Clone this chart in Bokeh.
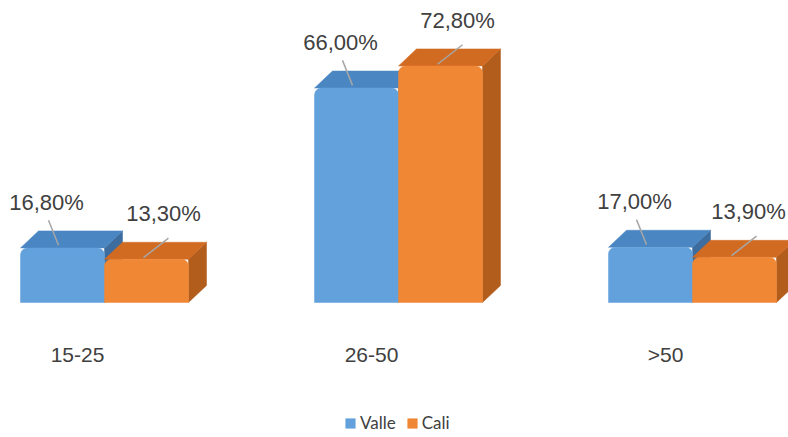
from bokeh.plotting import figure
from bokeh.models import Range1d, FixedTicker, Legend, LegendItem
from bokeh.core.properties import value
from bokeh.embed import file_html
from bokeh.resources import INLINE

categories = ["15-25", "26-50", ">50"]
valle = [16.8, 66.0, 17.0]
cali = [13.3, 72.8, 13.9]
valle_labels = ["16,80%", "66,00%", "17,00%"]
cali_labels = ["13,30%", "72,80%", "13,90%"]

W, H = 788, 437
PX_X = 294.0      # pixels per category unit
PX_Y = 3.25       # pixels per percent
BASE = 302        # baseline, pixels from top

x_start = -77.0 / PX_X
x_end = x_start + W / PX_X
y_start = -(H - BASE) / PX_Y
y_end = BASE / PX_Y

p = figure(width=W, height=H, output_backend="svg", toolbar_location=None,
           x_range=Range1d(x_start, x_end), y_range=Range1d(y_start, y_end),
           min_border=0)
p.outline_line_color = None
p.grid.visible = False
p.yaxis.visible = False
p.background_fill_color = "white"
p.border_fill_color = "white"

xa = p.xaxis[0]
xa.fixed_location = 0
xa.ticker = FixedTicker(ticks=list(range(len(categories))))
xa.major_label_overrides = {i: c for i, c in enumerate(categories)}
xa.axis_line_color = None
xa.major_tick_line_color = None
xa.minor_tick_line_color = None
xa.major_label_standoff = 34
xa.major_label_text_font = "Liberation Sans"
xa.major_label_text_font_size = "21px"
xa.major_label_text_color = "#404040"

bw = 84 / PX_X
shift = 27 / PX_X
dx = 18 / PX_X
dy = 17 / PX_Y

series = [
    ("Valle", valle, valle_labels, -1, ("#62a1dc", "#4a86c2", "#3c6d9e")),
    ("Cali", cali, cali_labels, 0, ("#f08735", "#d16b22", "#b25d1c")),
]

legend_items = []
for i in range(len(categories)):
    for name, vals, labs, side, (cf, ct, cs) in series:
        v = vals[i]
        x0 = i + shift - bw if side == -1 else i + shift
        x1 = x0 + bw
        # side face
        p.patch([x1, x1, x1 + dx, x1 + dx], [0, v, v + dy, dy],
                fill_color=cs, line_color=cs, line_width=0.5)
        # top face
        p.patch([x0, x1, x1 + dx, x0 + dx], [v, v, v + dy, v + dy],
                fill_color=ct, line_color=ct, line_width=0.5)
        # front face
        r = p.quad(left=[x0], right=[x1], bottom=[0], top=[v],
                   fill_color=cf, line_color=cf, line_width=0.5,
                   border_radius=(7, 7, 0, 0))
        if i == 0:
            legend_items.append(LegendItem(label=name, renderers=[r]))

# data labels with leader lines
for name, vals, labs, side, cols in series:
    for i, v in enumerate(vals):
        cx = i + shift + (bw / 2 if side == 0 else -bw / 2)
        if side == -1:
            lx = cx - 16 / PX_X
            p.segment(x0=[lx + 2 / PX_X], y0=[v + 8.5], x1=[lx + 12 / PX_X], y1=[v + 0.8],
                      line_color="#a6a6a6", line_width=1.5)
        else:
            lx = min(cx + 17 / PX_X, x_end - 40 / PX_X)
            p.segment(x0=[cx + 22 / PX_X], y0=[v + 6.5], x1=[cx - 3 / PX_X], y1=[v + 0.5],
                      line_color="#a6a6a6", line_width=1.5)
        p.text(x=[lx], y=[v + 14], text=[labs[i]],
               text_font=value("Liberation Sans"), text_font_size="22px",
               text_color="#404040", text_align="center", text_baseline="middle")

legend = Legend(items=legend_items, orientation="horizontal",
                location=(344, 4), border_line_color=None,
                background_fill_alpha=0, label_text_font="Lato",
                label_text_font_size="17px", label_text_color="#404040",
                glyph_width=12, glyph_height=12, spacing=10, label_standoff=4,
                padding=0, margin=0)
p.add_layout(legend, "center")

open("out.html", "w").write(file_html(p, INLINE))
